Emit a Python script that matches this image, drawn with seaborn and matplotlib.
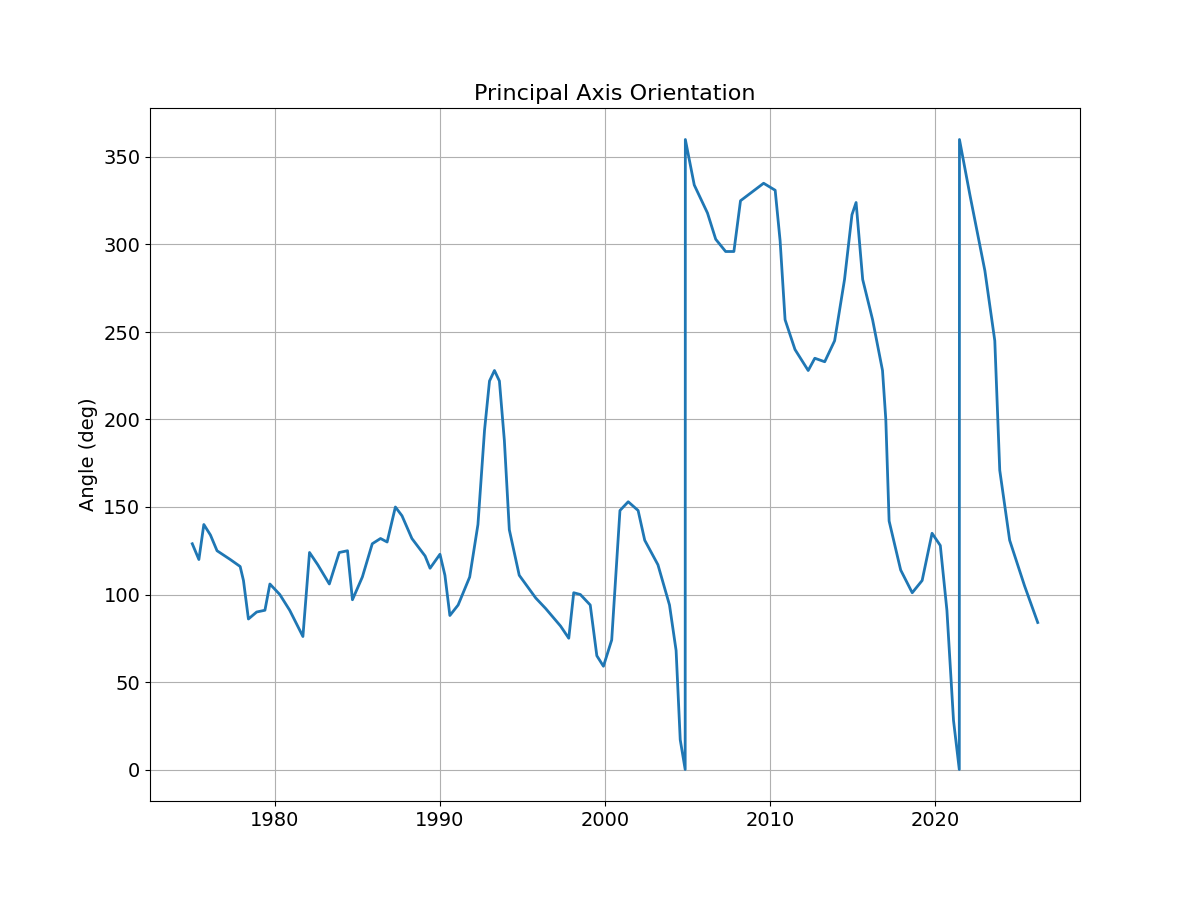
import matplotlib
matplotlib.use("Agg")
import matplotlib.pyplot as plt
import seaborn as sns
import pandas as pd

# values
years = [1975.0, 1975.4, 1975.7, 1976.1, 1976.5, 1977.3, 1977.9, 1978.1, 1978.4, 1978.9,
         1979.4, 1979.7, 1980.3, 1980.9, 1981.7, 1982.1, 1982.6, 1983.3, 1983.9, 1984.4,
         1984.7, 1985.3, 1985.9, 1986.4, 1986.8, 1987.3, 1987.7, 1988.3, 1989.1, 1989.4,
         1990.0, 1990.3, 1990.6, 1991.1, 1991.8, 1992.3, 1992.7, 1993.0, 1993.3, 1993.6,
         1993.9, 1994.2, 1994.8, 1995.8, 1996.4, 1997.3, 1997.8, 1998.1, 1998.5, 1999.1,
         1999.5, 1999.9, 2000.4, 2000.9, 2001.4, 2002.0, 2002.4, 2003.2, 2003.9, 2004.3,
         2004.55, 2004.85, 2004.86, 2005.4, 2006.2, 2006.7, 2007.3, 2007.8, 2008.2, 2008.9,
         2009.6, 2010.3, 2010.6, 2010.9, 2011.5, 2012.3, 2012.7, 2013.3, 2013.9, 2014.5,
         2014.95, 2015.2, 2015.6, 2016.2, 2016.8, 2017.0, 2017.2, 2017.9, 2018.6, 2019.2,
         2019.8, 2020.3, 2020.7, 2021.1, 2021.45, 2021.46, 2022.1, 2023.0, 2023.6, 2023.9,
         2024.5, 2025.4, 2026.2]
angles = [129, 120, 140, 134, 125, 120, 116, 108, 86, 90,
          91, 106, 100, 91, 76, 124, 117, 106, 124, 125,
          97, 110, 129, 132, 130, 150, 145, 132, 122, 115,
          123, 111, 88, 94, 110, 140, 194, 222, 228, 222,
          188, 137, 111, 98, 92, 82, 75, 101, 100, 94,
          65, 59, 74, 148, 153, 148, 131, 117, 94, 68,
          17, 0, 360, 334, 318, 303, 296, 296, 325, 330,
          335, 331, 302, 257, 240, 228, 235, 233, 245, 280,
          317, 324, 280, 257, 228, 200, 142, 114, 101, 108,
          135, 128, 91, 28, 0, 360, 328, 285, 245, 171,
          131, 105, 84]

df = pd.DataFrame({"year": years, "angle": angles})

fig, ax = plt.subplots(figsize=(12, 9), dpi=100)
sns.lineplot(data=df, x="year", y="angle", sort=False, estimator=None,
             color="#1f77b4", linewidth=2, ax=ax)
ax.set_title("Principal Axis Orientation", fontsize=16)
ax.set_xlabel("")
ax.set_ylabel("Angle (deg)", fontsize=14)
ax.tick_params(labelsize=14)
ax.set_yticks(range(0, 351, 50))
ax.grid(True, color="#b0b0b0")
plt.savefig("out.png")
